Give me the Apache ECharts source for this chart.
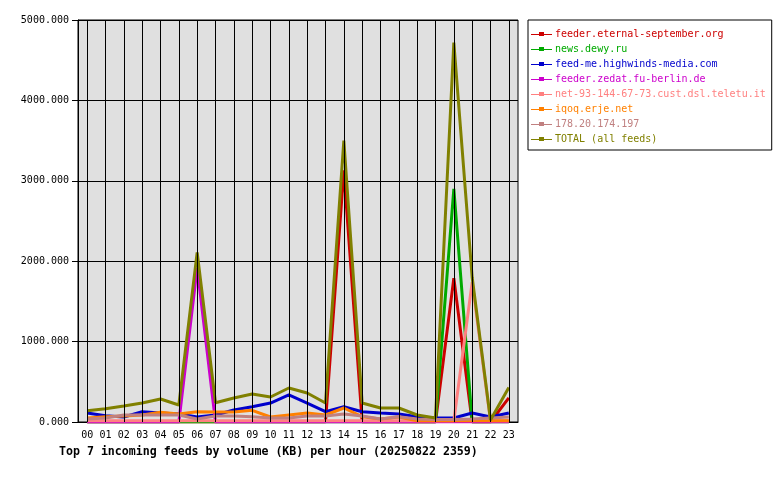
<!DOCTYPE html>
<html><head><meta charset="utf-8">
<script src="https://cdn.jsdelivr.net/npm/echarts@6/dist/echarts.min.js"></script>
<style>html,body{margin:0;padding:0;background:#fff}#c{width:780px;height:480px}</style>
</head><body><div id="c"></div>
<script>
const hours = ['00','01','02','03','04','05','06','07','08','09','10','11','12','13','14','15','16','17','18','19','20','21','22','23'];
const seriesNames = ['feeder.eternal-september.org','news.dewy.ru','feed-me.highwinds-media.com','feeder.zedat.fu-berlin.de','net-93-144-67-73.cust.dsl.teletu.it','iqoq.erje.net','178.20.174.197','TOTAL (all feeds)'];
const seriesColors = ['#cc0000','#00aa00','#0000cc','#cc00cc','#ff8080','#ff8000','#c08080','#808000'];
const eternal  = [0,0,0,0,0,0,0,0,0,0,0,0,0,0,3130,0,0,0,0,0,1790,0,0,300];
const dewy     = [0,0,0,0,0,0,0,0,0,0,0,0,0,0,0,0,0,0,0,0,2900,0,0,0];
const highwinds= [112,78,62,128,112,100,62,87,149,190,236,336,236,128,190,128,112,100,66,50,50,112,62,112];
const zedat    = [0,0,0,0,0,0,1920,0,0,0,0,0,0,0,0,0,0,0,0,0,0,0,0,0];
const teletu   = [15,15,15,15,15,15,15,15,15,15,15,15,15,15,15,15,15,15,15,15,15,1740,15,15];
const erje     = [50,66,75,87,120,100,128,124,124,145,62,87,112,87,174,66,37,62,16,16,16,16,16,16];
const ip178    = [37,50,87,87,87,87,37,75,75,66,50,50,75,75,100,75,37,66,37,30,30,37,50,62];
const total    = [140,165,200,236,286,211,2110,240,298,348,311,423,360,236,3500,236,174,174,87,50,4720,1800,25,430];
const yTicks   = [0,1000,2000,3000,4000,5000];
const titleText = 'Top 7 incoming feeds by volume (KB) per hour (20250822 2359)';

const values = [eternal,dewy,highwinds,zedat,teletu,erje,ip178,total];
const mono = 'DejaVu Sans Mono';
const chart = echarts.init(document.getElementById('c'), null, {renderer:'canvas'});
const dataSeries = seriesNames.map((n,i)=>({
  name:n,type:'line',data:values[i],showSymbol:false,symbol:'none',z:3,
  lineStyle:{color:seriesColors[i],width:3},itemStyle:{color:seriesColors[i]},
  emphasis:{disabled:true}
}));
const gridSeries = {
  name:'_grid',type:'line',data:[],z:1,silent:true,
  markLine:{silent:true,symbol:['none','none'],animation:false,label:{show:false},
    lineStyle:{color:'#000',width:1,type:'solid'},emphasis:{disabled:true},
    data:hours.map(h=>({xAxis:h}))}
};
chart.setOption({
  animation:false,
  backgroundColor:'#fff',
  title:{text:titleText,left:59,top:446,padding:0,textStyle:{fontFamily:mono,fontSize:11.6,fontWeight:'bold',color:'#000'}},
  grid:{left:78,right:262,top:20,bottom:58,show:true,backgroundColor:'#e0e0e0',borderColor:'#000',borderWidth:1},
  legend:{
    orient:'vertical',left:528,top:20,
    padding:[8,6,5,3],
    borderColor:'#000',borderWidth:1,backgroundColor:'#fff',
    itemWidth:21,itemHeight:8,itemGap:3,
    icon:'path://M0,4L8,4L8,2L13,2L13,4L21,4L21,5L13,5L13,6L8,6L8,5L0,5Z',
    data:seriesNames.map((n,i)=>({name:n,textStyle:{color:seriesColors[i]},itemStyle:{color:seriesColors[i]}})),
    textStyle:{fontFamily:mono,fontSize:10,padding:[0,0,0,-2],lineHeight:12},
    selectedMode:false
  },
  xAxis:{
    type:'category',data:hours,boundaryGap:true,
    axisLine:{lineStyle:{color:'#000',width:1}},
    axisTick:{alignWithLabel:true,length:5,lineStyle:{color:'#000'}},
    axisLabel:{fontFamily:mono,fontSize:10,color:'#000',margin:8,interval:0},
    splitLine:{show:false}
  },
  yAxis:{
    type:'value',min:0,max:5000,interval:1000,
    axisLine:{show:true,lineStyle:{color:'#000'}},
    axisTick:{show:true,length:6,lineStyle:{color:'#000'}},
    axisLabel:{fontFamily:mono,fontSize:10,color:'#000',margin:9,formatter:v=>v.toFixed(3)},
    splitLine:{show:true,lineStyle:{color:'#000',width:1}}
  },
  series:[gridSeries].concat(dataSeries)
});
</script></body></html>
